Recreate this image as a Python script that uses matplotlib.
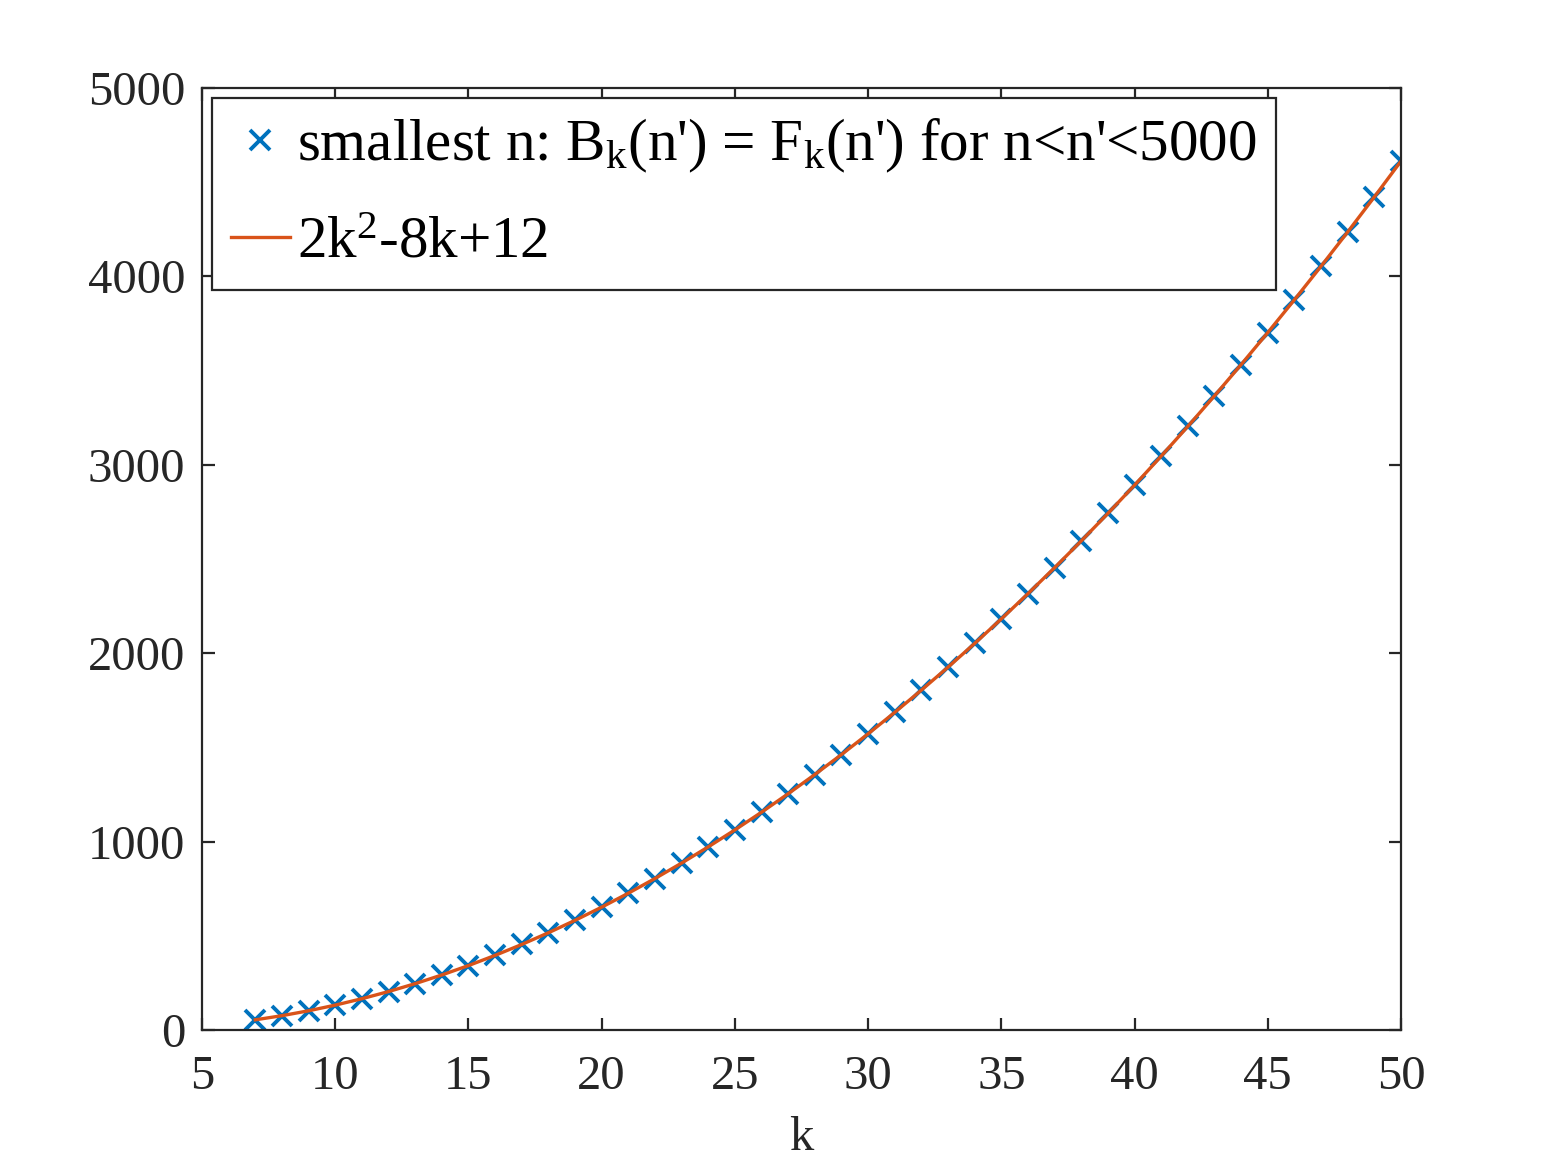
import matplotlib
matplotlib.use("Agg")
import matplotlib.pyplot as plt

plt.rcParams['font.family'] = ['Liberation Serif', 'DejaVu Serif']
plt.rcParams['mathtext.fontset'] = 'custom'
plt.rcParams['mathtext.rm'] = 'Liberation Serif'
plt.rcParams['mathtext.it'] = 'Liberation Serif:italic'

# valeurs
k = list(range(7, 51))
n_min = [54, 76, 102, 132, 166, 204, 246, 292, 342, 396, 454, 516, 582, 652,
         726, 804, 886, 972, 1062, 1156, 1254, 1356, 1462, 1572, 1686, 1804,
         1926, 2052, 2182, 2316, 2454, 2596, 2742, 2892, 3046, 3204, 3366,
         3532, 3702, 3876, 4054, 4236, 4422, 4612]
courbe = [54, 76, 102, 132, 166, 204, 246, 292, 342, 396, 454, 516, 582, 652,
          726, 804, 886, 972, 1062, 1156, 1254, 1356, 1462, 1572, 1686, 1804,
          1926, 2052, 2182, 2316, 2454, 2596, 2742, 2892, 3046, 3204, 3366,
          3532, 3702, 3876, 4054, 4236, 4422, 4612]

gris = '#262626'
bleu = (0, 0.447, 0.741)
orange = (0.85, 0.325, 0.098)

fig = plt.figure(figsize=(15.48, 11.64), dpi=100)
ax = fig.add_axes([202/1548, 134/1164, (1401-202)/1548, (1030-88)/1164])

ax.plot(k, n_min, 'x', color=bleu, markersize=14, markeredgewidth=2.8,
        label="smallest n: B$_\\mathrm{k}$(n') = F$_\\mathrm{k}$(n') for n<n'<5000")
ax.plot(k, courbe, '-', color=orange, linewidth=2.4, label='2k$^\\mathrm{2}$-8k+12')

ax.set_xlim(5, 50)
ax.set_ylim(0, 5000)
ax.set_xticks(range(5, 51, 5))
ax.set_yticks(range(0, 5001, 1000))
ax.set_xlabel('k', fontsize=35, color=gris, labelpad=12)

ax.tick_params(direction='in', length=9, width=1.6, colors=gris, labelsize=35,
               top=True, right=True)
ax.tick_params(axis='x', pad=18)
ax.tick_params(axis='y', pad=12)
for s in ax.spines.values():
    s.set_color(gris)
    s.set_linewidth(1.6)

leg = ax.legend(loc='upper left', fontsize=42.5, fancybox=False, framealpha=1,
                edgecolor=gris, handlelength=1.0, handletextpad=0.12,
                borderaxespad=0.17, borderpad=0.32, labelspacing=0.7)
leg.get_frame().set_linewidth(1.6)

plt.savefig('out.png', dpi=100)
